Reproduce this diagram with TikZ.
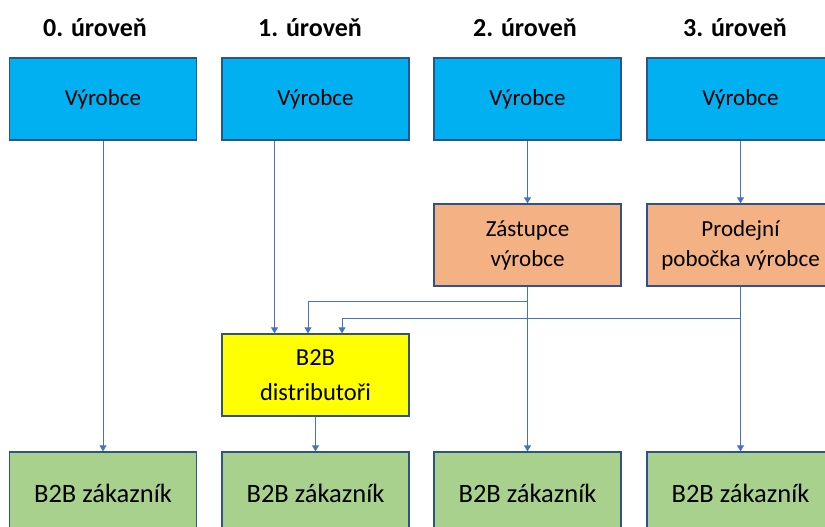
\documentclass[tikz,border=0pt]{standalone}
\usepackage{fontspec}
\setmainfont{Carlito}
\usetikzlibrary{arrows.meta}
\definecolor{vyrblue}{HTML}{00B0F0}
\definecolor{zastorange}{HTML}{F4B183}
\definecolor{zakgreen}{HTML}{A9D18E}
\definecolor{distyellow}{HTML}{FFFF00}
\definecolor{edgeblue}{HTML}{2F528F}
\definecolor{linkblue}{HTML}{4472C4}

\begin{document}
\begin{tikzpicture}[x = 1pt, y = -1pt,
    box/.style = {draw = edgeblue, line width = 1.3pt, minimum width = 187pt,
      minimum height = 82pt, align = center, inner sep = 2pt,
      font = \fontsize{23}{30}\selectfont},
    title/.style = {font = \fontsize{26}{31}\selectfont\bfseries},
    arr/.style = {linkblue, line width = 0.8pt,
      -{Triangle[width = 7pt, length = 6pt]}}]
    \useasboundingbox (0,0) rectangle (825,527);
    % urovne
    \node [title] (t0) at (95,28) {0. úroveň};
    \node [title] (t1) at (310,28) {1. úroveň};
    \node [title] (t2) at (525,28) {2. úroveň};
    \node [title] (t3) at (735,28) {3. úroveň};
    % vyrobci
    \node [box, fill = vyrblue] (v0) at (103,99) {Výrobce};
    \node [box, fill = vyrblue] (v1) at (315.5,99) {Výrobce};
    \node [box, fill = vyrblue] (v2) at (527.5,99) {Výrobce};
    \node [box, fill = vyrblue] (v3) at (740.5,99) {Výrobce};
    % mezicl
    \node [box, fill = zastorange] (z2) at (527.5,245) {Zástupce\\výrobce};
    \node [box, fill = zastorange] (p3) at (740.5,245) {Prodejní\\pobočka výrobce};
    \node [box, fill = distyellow, font = \fontsize{24.5}{35}\selectfont]
      (d1) at (315.5,375) {B2B\\distributoři};
    % zakaznici
    \tikzset{zak/.style = {box, fill = zakgreen,
      font = \fontsize{26.5}{31}\selectfont}}
    \node [zak] (k0) at (103,493) {B2B zákazník};
    \node [zak] (k1) at (315.5,493) {B2B zákazník};
    \node [zak] (k2) at (527.5,493) {B2B zákazník};
    \node [zak] (k3) at (740.5,493) {B2B zákazník};
    \coordinate (j2) at (527.5,301);
    \coordinate (j3) at (740.5,318);
    % spoje
    \draw [arr] (v0.south) -- (k0.north);
    \draw [arr] ([xshift = -41pt]v1.south) -- ([xshift = -41pt]d1.north);
    \draw [arr] (v2.south) -- (z2.north);
    \draw [arr] (v3.south) -- (p3.north);
    \draw [arr] (z2.south) -- (k2.north);
    \draw [arr] (p3.south) -- (k3.north);
    \draw [arr] (j2) -| ([xshift = -7.5pt]d1.north);
    \draw [arr] (j3) -| ([xshift = 26.5pt]d1.north);
    \draw [arr] (d1.south) -- (k1.north);
  \end{tikzpicture}
\end{document}
